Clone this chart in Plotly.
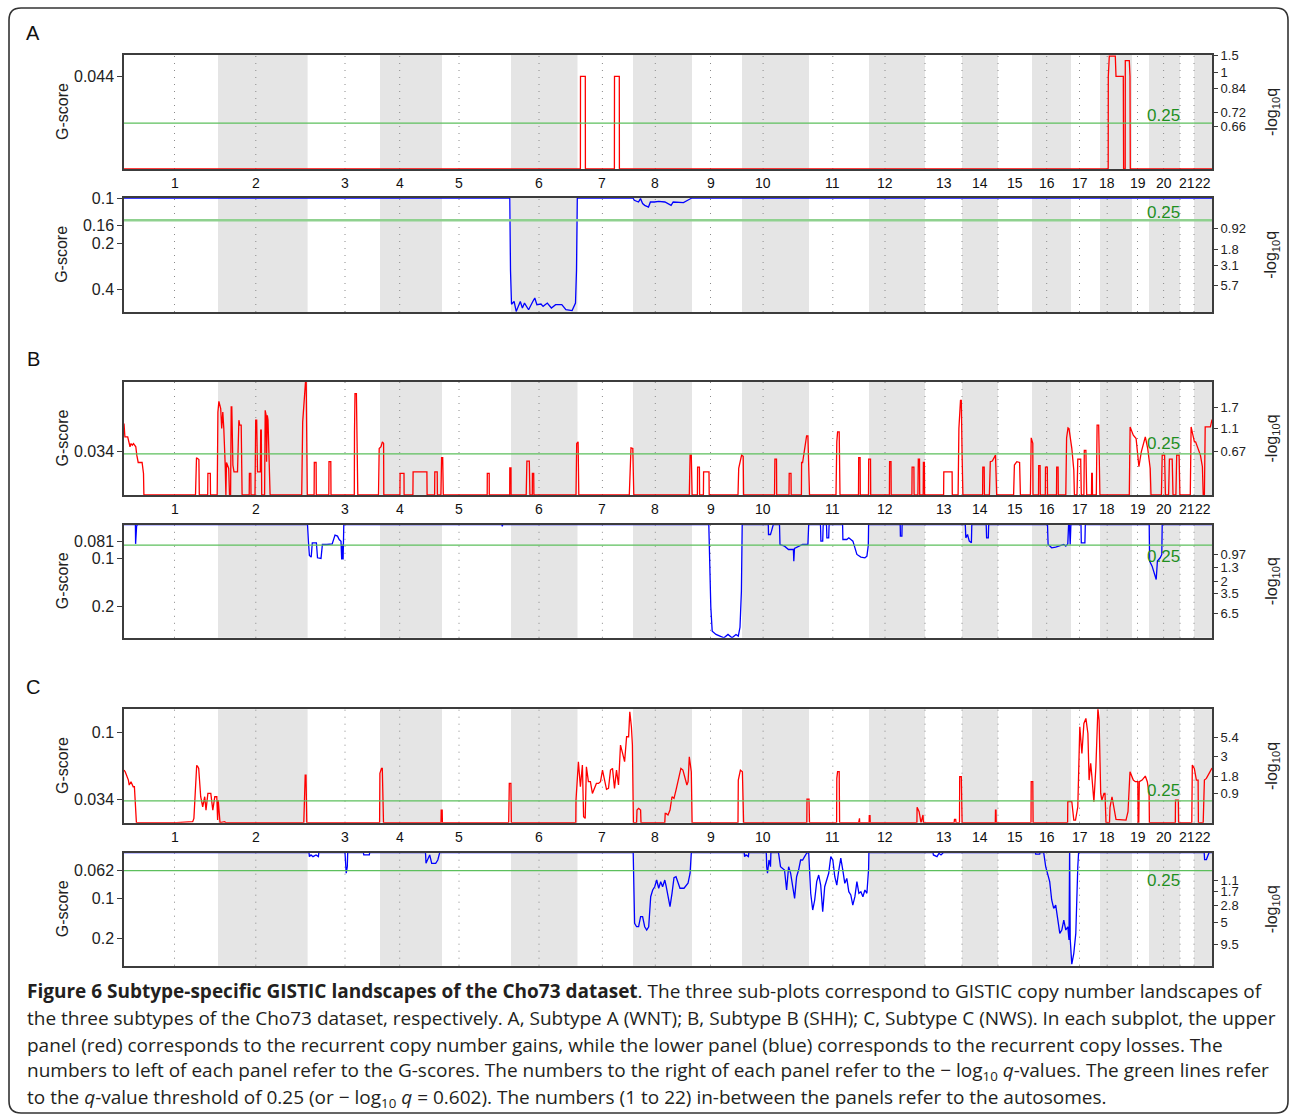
import math
import plotly.graph_objects as go

# ------------------------------------------------------------------ data
chrom_names = [str(i) for i in range(1, 23)]
# chromosome spans (genome units, as drawn)
chrom_len = [94, 89.6, 72.4, 62, 69, 66.5, 55.5, 59, 50, 67, 60, 56,
             37, 36, 34, 39, 29, 32, 17, 31, 14, 18]
# centromere offset inside each chromosome (0 = acrocentric, at start)
centro_off = [50.5, 37.8, 37.4, 19.7, 17, 28, 24.9, 22.3, 18.5, 21.1, 23.8, 16,
              0, 0, 0, 14.7, 8.5, 7.2, 5.5, 14.6, 0, 0]

# ---- Subtype A
gain_A = [
    [0, 0], [456.4, 0], [456.5, 0.044], [461.3, 0.044], [461.4, 0],
    [490.4, 0], [490.5, 0.044], [495.3, 0.044], [495.4, 0],
    [984.2, 0], [984.3, 0.044], [985.3, 0.0536], [991.3, 0.0536], [992, 0.044], [999.3, 0.044], [999.6, 0],
    [1001.2, 0], [1001.3, 0.0514], [1005.3, 0.0514], [1005.5, 0.044], [1006, 0.044], [1006.3, 0], [1088, 0]]
loss_A = [
    [0, 0.1], [385.8, 0.1], [386.5, 0.3], [387.5, 0.5], [390.1, 0.479], [392.2, 0.557], [396.3, 0.479],
    [398.4, 0.529], [400.5, 0.491], [404.6, 0.543], [408.8, 0.479], [410.8, 0.455], [412.9, 0.503],
    [417, 0.498], [419.1, 0.516], [423.3, 0.491], [427.4, 0.529], [431.6, 0.503], [437.8, 0.503],
    [441.9, 0.543], [448.1, 0.55], [451.5, 0.491], [452.5, 0.3], [453.3, 0.1],
    [509, 0.1], [510.3, 0.1035], [514.5, 0.1062], [516.5, 0.1009], [518.6, 0.1088], [520.7, 0.1117],
    [524.5, 0.1146], [526.4, 0.1062], [530.5, 0.1062], [534.7, 0.1051], [540.9, 0.1062], [547.1, 0.1117],
    [549.2, 0.1062], [555.4, 0.1062], [559.5, 0.1072], [563.7, 0.1035], [566.6, 0.1009], [567.8, 0.1],
    [1088, 0.1]]

# ---- Subtype B
gain_B = [
    [0, 0.0554], [0.9, 0.0451], [3.7, 0.0451], [4.8, 0.0399], [6, 0.0374], [7, 0.0399], [8.3, 0.0386],
    [9.5, 0.0399], [11.8, 0.0374], [12.8, 0.0309], [14.2, 0.0252], [18.1, 0.0252], [18.8, 0.0206],
    [19.5, 0.0167], [19.9, 0],
    [71.5, 0], [72.5, 0.0289], [74.9, 0.0275], [75.3, 0],
    [83.7, 0], [83.9, 0.0167], [86.3, 0.0167], [86.5, 0],
    [93.2, 0], [93.9, 0.0644], [94.9, 0.0726], [96.7, 0.067], [97.7, 0.0515], [98.8, 0.0644],
    [99.8, 0.0515], [101.2, 0.0232], [101.9, 0], [102.5, 0.0252], [104.7, 0.0206], [105.5, 0],
    [106.6, 0], [107.2, 0.0683], [107.8, 0.0683], [108.9, 0.0232], [110, 0.018], [113.5, 0.018],
    [114.9, 0.058], [115.7, 0.0541], [117.2, 0.0541], [118.1, 0],
    [125.2, 0], [125.4, 0.0167], [126.8, 0.0167], [127, 0],
    [131, 0], [131.7, 0.058], [132.7, 0.058], [133.5, 0.018], [136.3, 0.018], [136.7, 0.0502],
    [137.3, 0.0502], [137.7, 0],
    [140.6, 0], [141.2, 0.0657], [142.1, 0.0618], [142.6, 0.0258], [143.3, 0.0618], [144, 0.058],
    [145, 0.0193], [146.1, 0],
    [177.7, 0], [178.7, 0.0567], [181.5, 0.0876], [182.2, 0.0876], [183.3, 0],
    [190.1, 0], [190.3, 0.0252], [192.1, 0.0252], [192.3, 0],
    [204.8, 0], [205, 0.0258], [206.8, 0.0258], [207, 0],
    [230.3, 0], [230.5, 0.0489], [231, 0.0786], [232.4, 0.0786], [233.3, 0.018], [233.8, 0],
    [254.5, 0], [255.2, 0.0361], [257, 0.0374], [258.4, 0.0412], [259.6, 0.04], [259.8, 0],
    [275.9, 0], [276.1, 0.0167], [280, 0.0167], [280.1, 0],
    [288.9, 0], [289.1, 0.018], [302.9, 0.018], [303.1, 0],
    [310.6, 0], [310.8, 0.018], [313.2, 0.018], [313.4, 0],
    [316.9, 0], [317.6, 0.0289], [318.7, 0.0289], [319.3, 0],
    [363.2, 0], [363.3, 0.0167], [365.2, 0.0167], [365.3, 0],
    [385.7, 0], [385.8, 0.0211], [387, 0.0211], [387.1, 0],
    [402.2, 0], [402.9, 0.0263], [405.3, 0.0263], [405.9, 0], [408.3, 0], [408.4, 0.0167],
    [409.7, 0.0167], [409.9, 0],
    [452, 0], [452.7, 0.0399], [454.1, 0.0412], [454.8, 0],
    [505.3, 0], [506.3, 0.0309], [507, 0.0366], [508.8, 0.0361], [509.8, 0],
    [565.3, 0], [566.1, 0.0309], [567.3, 0.0309], [568.1, 0],
    [573.4, 0], [573.6, 0.0216], [575.4, 0.0216], [575.6, 0],
    [579.4, 0], [579.6, 0.018], [585, 0.018], [585.2, 0],
    [614, 0], [614.7, 0.0206], [617.6, 0.0309], [619.2, 0.03], [619.6, 0],
    [650.5, 0], [650.9, 0.0278], [652.5, 0.0278], [652.7, 0],
    [665, 0], [665.2, 0.0167], [667, 0.0167], [667.2, 0],
    [677.4, 0], [677.6, 0.0252], [678.6, 0.0252], [682.6, 0.0459], [683.9, 0.0459], [685.5, 0],
    [712, 0], [712.8, 0.0412], [713.6, 0.0489], [715.2, 0.0489], [716, 0],
    [734.5, 0], [734.7, 0.0289], [736.1, 0.0289], [736.3, 0],
    [744.5, 0], [744.7, 0.0278], [746.5, 0.0278], [746.7, 0],
    [765.4, 0], [765.6, 0.0258], [767, 0.0258], [767.2, 0],
    [787.9, 0], [788.1, 0.0216], [789.9, 0.0216], [790.1, 0],
    [793.9, 0], [794.3, 0.0278], [795.5, 0.0278], [795.7, 0], [799.2, 0], [799.4, 0.0252],
    [800.4, 0.0252], [800.6, 0],
    [819.6, 0], [819.8, 0.018], [828.1, 0.018], [828.3, 0],
    [834.1, 0], [834.9, 0.0515], [836.5, 0.0734], [837.3, 0.0734], [838.1, 0.0309], [838.9, 0],
    [858.6, 0], [858.8, 0.0216], [860.2, 0.0216], [860.4, 0],
    [865.4, 0], [866.3, 0.0258], [868.3, 0.0263], [871.5, 0.0309], [872.7, 0],
    [889.6, 0], [890.4, 0.0232], [892.8, 0.0258], [895.6, 0.0252], [896.4, 0],
    [906.4, 0], [907.2, 0.0443], [908.8, 0.04], [909, 0],
    [914.5, 0], [914.7, 0.0227], [916.1, 0.0227], [916.3, 0],
    [921.3, 0], [921.5, 0.0216], [923.3, 0.0216], [923.5, 0],
    [932.5, 0], [932.7, 0.0216], [934.1, 0.0216], [934.3, 0],
    [941.8, 0], [942.6, 0.0443], [944, 0.052], [945, 0.0515], [947.8, 0.0361], [949.8, 0.0193], [950.4, 0],
    [953, 0], [953.8, 0.0278], [956.7, 0.0278], [957.3, 0],
    [959.9, 0], [960.3, 0.0345], [961.9, 0.0345], [962.7, 0],
    [967.5, 0], [967.7, 0.0167], [968.3, 0.0167], [968.5, 0],
    [972.3, 0], [973.1, 0.0541], [974.7, 0.0541], [975.9, 0],
    [1005.3, 0], [1006.1, 0.0528], [1009.3, 0.0463], [1012.1, 0.0438], [1014.1, 0.0309],
    [1014.9, 0.0219], [1017.3, 0.0335], [1021.3, 0.0451], [1023.7, 0.0361], [1026.2, 0.0206], [1027, 0],
    [1037.4, 0], [1038.2, 0.0309], [1040.6, 0.0309], [1041.4, 0],
    [1044.6, 0], [1045.4, 0.0278], [1048.2, 0.0278], [1049, 0],
    [1051.9, 0], [1052.7, 0.0309], [1055.1, 0.0309], [1055.9, 0],
    [1066.3, 0], [1067.1, 0.0528], [1070.4, 0.0412], [1071.6, 0.0412], [1076.4, 0.0309],
    [1078.4, 0.0219], [1079.2, 0], [1080.4, 0], [1081.2, 0.0528], [1086.4, 0.0528], [1088, 0.0585]]
loss_B = [
    [0, 0.0396], [11.4, 0.0396], [11.6, 0.0773], [12.6, 0.043], [13.5, 0.0396],
    [183.5, 0.0396], [184.5, 0.075], [185.4, 0.1], [187.2, 0.1032], [188.3, 0.0753], [192.4, 0.0753],
    [193.5, 0.1045], [197, 0.1058], [198.4, 0.0786], [202.9, 0.0786], [208.2, 0.0773], [211, 0.0604],
    [213.5, 0.0623], [215.2, 0.0688], [217, 0.0721], [217.7, 0.1078], [218.3, 0.0786], [219.1, 0.1078],
    [219.8, 0.0396],
    [377.8, 0.0396], [378.3, 0.043], [378.8, 0.0396],
    [584.8, 0.0396], [585.8, 0.12], [586.8, 0.2], [588.2, 0.2475], [592, 0.254], [596, 0.2572],
    [600, 0.2605], [604, 0.254], [608, 0.2605], [612, 0.254], [614.3, 0.2572], [616, 0.24],
    [617.4, 0.17], [618.2, 0.0396],
    [644.3, 0.0396], [644.5, 0.0591], [646.5, 0.0591], [647.5, 0.0526], [649.3, 0.0396],
    [655.5, 0.0396], [656, 0.0786], [660.5, 0.0818], [664.5, 0.0883], [669.4, 0.0883], [669.8, 0.111],
    [670.5, 0.086], [674.6, 0.0818], [678.6, 0.0786], [683.9, 0.0786], [684.7, 0.0396],
    [696.5, 0.0396], [696.9, 0.0721], [698.7, 0.0721], [699.2, 0.0396], [702.5, 0.0396],
    [702.9, 0.0656], [704.7, 0.0656], [705.1, 0.0396],
    [718.6, 0.0396], [718.9, 0.0688], [722.8, 0.0688], [724.8, 0.0656], [728.9, 0.0721],
    [730.9, 0.0851], [732.9, 0.098], [736.9, 0.1032], [740.9, 0.1045], [742.9, 0.1013],
    [744.3, 0.08], [744.6, 0.0396],
    [776.2, 0.0396], [776.4, 0.0623], [777.9, 0.0623], [778.1, 0.0396],
    [841.3, 0.0396], [841.8, 0.0656], [843.5, 0.0591], [845.3, 0.072], [847.4, 0.0753], [847.8, 0.0396],
    [862.2, 0.0396], [862.6, 0.0656], [864.3, 0.0656], [864.7, 0.0396],
    [923.5, 0.0396], [924.1, 0.0786], [927.7, 0.0851], [931.7, 0.0838], [935.8, 0.0818],
    [939.8, 0.0786], [941.8, 0.0818], [943.8, 0.0773], [944.6, 0.0396], [945.4, 0.0396],
    [946.2, 0.0786], [946.9, 0.0396],
    [957, 0.0396], [957.3, 0.0753], [960.9, 0.0753], [961.3, 0.0396],
    [1025.2, 0.0396], [1025.6, 0.111], [1028.1, 0.1208], [1030.2, 0.137], [1032.2, 0.1468],
    [1033.4, 0.111], [1036.2, 0.1045], [1037.8, 0.098], [1038.2, 0.0396],
    [1088, 0.0396]]

# ---- Subtype C
gain_C = [
    [0, 0.063], [1.2, 0.0614], [4.4, 0.0531], [5.2, 0.0482], [7, 0.0515], [9.2, 0.0465], [10.4, 0.0465],
    [12.4, 0.011],
    [52.6, 0.011], [68.7, 0.0119], [69.9, 0.0152], [72.7, 0.0677], [73.9, 0.0663], [74.7, 0.0647],
    [76.7, 0.0366], [78.7, 0.0267], [80.7, 0.0366], [82, 0.0234], [83.9, 0.0399], [86.8, 0.0399],
    [88.8, 0.0234], [90.8, 0.0366], [92.8, 0.0366], [93.6, 0.0135], [94.2, 0.0333], [94.8, 0.0234],
    [96, 0.011], [100.8, 0.0119], [101.5, 0.011],
    [179.8, 0.011], [180, 0.0234], [181.2, 0.0581], [182, 0.0581], [182.8, 0.011],
    [255.6, 0.011], [255.9, 0.0597], [257.5, 0.0647], [258.3, 0.0647], [259.5, 0.011],
    [317, 0.011], [317.2, 0.0234], [318.2, 0.0234], [318.4, 0.011],
    [384.7, 0.011], [385.3, 0.0498], [386.9, 0.0498], [387.3, 0.011],
    [451.8, 0.011], [452, 0.0333], [454.4, 0.0713], [456.4, 0.0465], [458.4, 0.068], [459.6, 0.0168],
    [461.2, 0.0152], [462.4, 0.0663], [464.4, 0.0515], [466.4, 0.0515], [468.4, 0.0399], [472.4, 0.0498],
    [474.5, 0.0498], [476.5, 0.0515], [478.5, 0.063], [482.5, 0.0439], [484.5, 0.0449], [486.5, 0.063],
    [488.5, 0.0647], [490.5, 0.0449], [492.5, 0.063], [494.5, 0.0482], [496.5, 0.0878], [498.6, 0.0795],
    [500.6, 0.0713], [502.6, 0.096], [504.6, 0.096], [505.8, 0.1208], [507.4, 0.1059], [508.4, 0.0878],
    [509.4, 0.011],
    [512.6, 0.011], [513, 0.0234], [514.6, 0.0251], [516.6, 0.0234], [517, 0.011],
    [540.8, 0.011], [541.2, 0.0201], [542, 0.0201], [544, 0.0185], [546, 0.0234], [548, 0.0366],
    [550, 0.035], [552, 0.0432], [554, 0.0531], [556.9, 0.0647], [558.9, 0.063], [560.9, 0.0548],
    [562.9, 0.0482], [564.1, 0.0515], [565.3, 0.0762], [567.3, 0.0614], [568.1, 0.011],
    [614, 0.011], [614.3, 0.0531], [616.4, 0.063], [618.4, 0.0614], [619.6, 0.011],
    [682.8, 0.011], [683, 0.0343], [685, 0.0343], [685.5, 0.011],
    [712.6, 0.011], [712.8, 0.0548], [713.6, 0.0614], [715.2, 0.0614], [715.6, 0.011],
    [734.7, 0.011], [734.9, 0.0152], [735.5, 0.0152], [735.7, 0.011],
    [745.1, 0.011], [745.3, 0.0178], [746, 0.0178], [746.2, 0.011],
    [792.9, 0.011], [793.1, 0.0261], [795.1, 0.0218], [797, 0.011], [799, 0.0185], [799.4, 0.011],
    [830.1, 0.011], [830.5, 0.0142], [831.7, 0.0142], [832, 0.011],
    [835.5, 0.011], [835.7, 0.0564], [837.3, 0.0564], [838.1, 0.011],
    [871.3, 0.011], [871.5, 0.0234], [872, 0.0234], [872.2, 0.011],
    [907, 0.011], [907.2, 0.0515], [908.8, 0.0515], [909.1, 0.011],
    [943.6, 0.011], [943.8, 0.0317], [947.8, 0.0317], [949.8, 0.0135], [951.5, 0.0135], [953.8, 0.0267],
    [955.8, 0.1059], [957.9, 0.0795], [959.9, 0.1092], [961.9, 0.1142], [963.9, 0.0993], [965.1, 0.0531],
    [966.7, 0.0696], [967.9, 0.0564], [969.9, 0.0317], [971.9, 0.0663], [973.9, 0.124], [975.1, 0.1125],
    [976.7, 0.0399], [977.9, 0.0333], [980, 0.0399], [981, 0.0399], [982, 0.011],
    [985.5, 0.011], [986, 0.0261], [988, 0.0366], [990, 0.0251], [992, 0.0142], [1002, 0.0135],
    [1004, 0.0218], [1006, 0.0614], [1009.3, 0.0531], [1011.3, 0.0515], [1013.8, 0.0515], [1014.1, 0.011],
    [1014.8, 0.011], [1015.3, 0.0515], [1018.1, 0.0531], [1021.3, 0.0571], [1023.3, 0.0515],
    [1025.1, 0.0399], [1025.4, 0.011],
    [1051.3, 0.011], [1051.5, 0.0333], [1054.3, 0.0333], [1054.6, 0.011],
    [1067.8, 0.011], [1068.3, 0.068], [1070.3, 0.0647], [1072.4, 0.0531], [1074.1, 0.0531], [1074.4, 0.011],
    [1079.2, 0.011], [1080.4, 0.0531], [1082.4, 0.0548], [1086.4, 0.063], [1088, 0.065]]
loss_C = [
    [0, 0.0455], [185, 0.0455], [185.4, 0.0487], [187, 0.0473], [189, 0.0487], [192, 0.0473],
    [194.4, 0.0487], [194.8, 0.0455],
    [221, 0.0455], [221.4, 0.0579], [222.2, 0.0648], [223.3, 0.0579], [223.7, 0.0455],
    [239.4, 0.0455], [239.8, 0.0473], [245.3, 0.0473], [245.7, 0.0455],
    [301.5, 0.0455], [302, 0.0546], [305.7, 0.0473], [307.7, 0.0546], [311.7, 0.0546], [313.8, 0.0516],
    [315.7, 0.0455],
    [509.2, 0.0455], [510.6, 0.1534], [512.6, 0.1626], [514.6, 0.1626], [516.6, 0.1369], [518.6, 0.1369],
    [520.7, 0.1626], [522.7, 0.1721], [524.7, 0.1626], [526.7, 0.097], [528.7, 0.0864], [530.7, 0.0817],
    [532.7, 0.0728], [534.7, 0.0839], [536.7, 0.075], [538.6, 0.0817], [540.8, 0.0728], [542, 0.08],
    [544, 0.097], [546, 0.1152], [548, 0.0915], [550, 0.07], [552, 0.0688], [554, 0.075], [556, 0.0839],
    [560, 0.0839], [564, 0.077], [566.1, 0.0648], [567.3, 0.0455],
    [620.2, 0.0455], [620.6, 0.0487], [622, 0.0473], [624.4, 0.0487], [624.8, 0.0455],
    [642.3, 0.0455], [642.7, 0.0579], [643.5, 0.0648], [645, 0.0516], [646.5, 0.0579], [646.9, 0.0455],
    [654.5, 0.0455], [656.5, 0.0579], [660.5, 0.0613], [662.6, 0.0864], [664.6, 0.0579], [666.6, 0.0648],
    [668.6, 0.0817], [670.6, 0.0998], [672.6, 0.0688], [674.6, 0.0613], [676.6, 0.0516], [678.6, 0.0516],
    [680.6, 0.0487], [682.6, 0.0459], [684.7, 0.0455],
    [686.7, 0.0915], [688.7, 0.122], [690.7, 0.1027], [692.7, 0.0749], [694.7, 0.0668], [696.7, 0.0794],
    [698.7, 0.1256], [700.7, 0.0817], [702.7, 0.0728], [704.7, 0.0648], [706.8, 0.0487], [708.8, 0.0516],
    [710.8, 0.0688], [712.8, 0.0794], [714.8, 0.0613], [716.8, 0.05], [718.8, 0.0613], [720.8, 0.077],
    [722.8, 0.0708], [724.8, 0.089], [726.8, 0.0942], [728.8, 0.112], [730.9, 0.097], [732.9, 0.0749],
    [734.9, 0.0915], [736.9, 0.089], [738.9, 0.097], [740.9, 0.0864], [742.9, 0.0915], [744.6, 0.06],
    [744.9, 0.0455],
    [809, 0.0455], [809.4, 0.0473], [813, 0.0487], [815, 0.0459], [817, 0.0473], [819.2, 0.0455],
    [911.5, 0.0455], [911.7, 0.0466], [915.7, 0.0466], [916, 0.0455], [919.7, 0.0455], [921.7, 0.0579],
    [923.7, 0.0668], [925.7, 0.0749], [927.7, 0.1027], [929.7, 0.1185], [931.7, 0.112], [933.8, 0.1449],
    [935.8, 0.1823], [937.8, 0.1721], [939.8, 0.1449], [941.8, 0.1721], [943.8, 0.1626], [945, 0.2045],
    [945.6, 0.0455], [946.2, 0.2], [947.8, 0.31], [949.8, 0.2572], [951.8, 0.1823], [953.8, 0.0579],
    [954.6, 0.0455],
    [1080.2, 0.0455], [1080.6, 0.0512], [1082.4, 0.0512], [1084, 0.047], [1085, 0.0455], [1088, 0.0455]]

# axis ranges (G-score, bottom -> top)
range_A_gain = [0, 0.0541]
range_A_loss = [0.562, 0.0995]
range_B_gain = [0, 0.0876]
range_B_loss = [0.2605, 0.0396]
range_C_gain = [0.0109, 0.1232]
range_C_loss = [0.318, 0.0455]

# left G-score tick labels and the G-score where each label sits
glab_A_gain, gpos_A_gain = ["0.044"], [0.044]
glab_A_loss, gpos_A_loss = ["0.1", "0.16", "0.2", "0.4"], [0.1, 0.151, 0.2, 0.4]
glab_B_gain, gpos_B_gain = ["0.034"], [0.034]
glab_B_loss, gpos_B_loss = ["0.081", "0.1", "0.2"], [0.0733, 0.1064, 0.2]
glab_C_gain, gpos_C_gain = ["0.1", "0.034"], [0.1, 0.034]
glab_C_loss, gpos_C_loss = ["0.062", "0.1", "0.2"], [0.062, 0.1, 0.2]

# right -log10 q tick labels and the G-score where each label sits
qlab_A_gain = ["1.5", "1", "0.84", "0.72", "0.66"]
qpos_A_gain = [0.0539, 0.0460, 0.0384, 0.0268, 0.0204]
qlab_A_loss = ["0.92", "1.8", "3.1", "5.7"]
qpos_A_loss = [0.1595, 0.2167, 0.2786, 0.378]
qlab_B_gain = ["1.7", "1.1", "0.67"]
qpos_B_gain = [0.0678, 0.0516, 0.034]
qlab_B_loss = ["0.97", "1.3", "2", "3.5", "6.5"]
qpos_B_loss = [0.098, 0.124, 0.150, 0.1747, 0.2125]
qlab_C_gain = ["5.4", "3", "1.8", "0.9"]
qpos_C_gain = [0.0957, 0.0769, 0.0571, 0.0399]
qlab_C_loss = ["1.1", "1.7", "2.8", "5", "9.5"]
qpos_C_loss = [0.0728, 0.0890, 0.112, 0.1518, 0.2203]

# q = 0.25 threshold, in G-score
thr_A_gain, thr_A_loss = 0.0218, 0.140
thr_B_gain, thr_B_loss = 0.0319, 0.080
thr_C_gain, thr_C_loss = 0.0326, 0.062
q_threshold_label = "0.25"

caption_lines = [
    "<b>Figure 6 Subtype-specific GISTIC landscapes of the Cho73 dataset</b>. The three sub-plots correspond to GISTIC copy number landscapes of",
    "the three subtypes of the Cho73 dataset, respectively. A, Subtype A (WNT); B, Subtype B (SHH); C, Subtype C (NWS). In each subplot, the upper",
    "panel (red) corresponds to the recurrent copy number gains, while the lower panel (blue) corresponds to the recurrent copy losses. The",
    "numbers to left of each panel refer to the G-scores. The numbers to the right of each panel refer to the \u2212 log<sub>10</sub> <i>q</i>-values. The green lines refer",
    "to the <i>q</i>-value threshold of 0.25 (or \u2212 log<sub>10</sub> <i>q</i> = 0.602). The numbers (1 to 22) in-between the panels refer to the autosomes.",
]

# ------------------------------------------------------------------ layout helpers
W, H = 1290, 1116
X0, X1 = 124, 1212


def fx(p):
    return p / W


def fy(p):
    return 1 - p / H


starts = []
acc = 0.0
for L in chrom_len:
    starts.append(acc)
    acc += L
GENOME = acc
centro_abs = [s + c for s, c in zip(starts, centro_off)]
label_x = [s + c if c > 0 else s + L / 2 for s, c, L in zip(starts, centro_off, chrom_len)]

NUM_FONT = "Liberation Sans, Arial, sans-serif"
TXT_FONT = "Liberation Sans, Arial, sans-serif"

panels = [
    ("A", "gain", gain_A, range_A_gain, "linear", glab_A_gain, gpos_A_gain, qlab_A_gain, qpos_A_gain, thr_A_gain, 8, 55, 169),
    ("A", "loss", loss_A, range_A_loss, "log", glab_A_loss, gpos_A_loss, qlab_A_loss, qpos_A_loss, thr_A_loss, 8, 197.7, 312),
    ("B", "gain", gain_B, range_B_gain, "linear", glab_B_gain, gpos_B_gain, qlab_B_gain, qpos_B_gain, thr_B_gain, 10, 382, 495),
    ("B", "loss", loss_B, range_B_loss, "linear", glab_B_loss, gpos_B_loss, qlab_B_loss, qpos_B_loss, thr_B_loss, -11, 524.5, 637.8),
    ("C", "gain", gain_C, range_C_gain, "linear", glab_C_gain, gpos_C_gain, qlab_C_gain, qpos_C_gain, thr_C_gain, 10, 709.3, 822.7),
    ("C", "loss", loss_C, range_C_loss, "log", glab_C_loss, gpos_C_loss, qlab_C_loss, qpos_C_loss, thr_C_loss, -10, 852.7, 965.7),
]

fig = go.Figure()
layout = dict(width=W, height=H,
              margin=dict(l=0, r=0, t=0, b=0, pad=0, autoexpand=False), autosize=False,
              paper_bgcolor="white", plot_bgcolor="rgba(0,0,0,0)", showlegend=False)
shapes = []
annotations = []

FRAME = "#3c3c3c"

for i, (letter, kind, data, yr, ytype, gl, gp, ql, qp, thr, shift, ptop, pbot) in enumerate(panels):
    n = i + 1
    xname = "x" if n == 1 else f"x{n}"
    yname = "y" if n == 1 else f"y{n}"
    rname = f"y{n + 6}"
    xkey = "xaxis" if n == 1 else f"xaxis{n}"
    ykey = "yaxis" if n == 1 else f"yaxis{n}"
    rkey = f"yaxis{n + 6}"

    rng = [math.log10(v) for v in yr] if ytype == "log" else list(yr)

    dom_y = [fy(pbot), fy(ptop)]
    layout[xkey] = dict(domain=[fx(X0), fx(X1)], range=[0, GENOME], anchor=yname, automargin=False,
                        showline=True, mirror=True, linecolor=FRAME, linewidth=1.5,
                        showgrid=False, zeroline=False, showticklabels=False, ticks="")
    layout[ykey] = dict(domain=dom_y, range=rng, type=ytype, anchor=xname, automargin=False,
                        showline=True, mirror=True, linecolor=FRAME, linewidth=1.5,
                        showgrid=False, zeroline=False, ticks="outside", ticklen=5,
                        tickcolor=FRAME, tickmode="array", tickvals=gp, ticktext=gl,
                        tickfont=dict(family=NUM_FONT, size=16, color="#222"))
    layout[rkey] = dict(domain=dom_y, range=rng, type=ytype, anchor=xname, overlaying=yname,
                        automargin=False,
                        side="right", showline=False, showgrid=False, zeroline=False,
                        ticks="outside", ticklen=5, tickcolor=FRAME, tickmode="array",
                        tickvals=qp, ticktext=ql,
                        tickfont=dict(family=NUM_FONT, size=13, color="#222"))

    # chromosome bands (even chromosomes shaded) and centromere dotted lines
    for k, (s, L) in enumerate(zip(starts, chrom_len)):
        if (k + 1) % 2 == 0:
            shapes.append(dict(type="rect", xref=xname, yref=f"{yname} domain",
                               x0=s, x1=s + L, y0=0, y1=1, fillcolor="#e5e5e5",
                               line=dict(width=0), layer="below"))
    for c in centro_abs:
        shapes.append(dict(type="line", xref=xname, yref=f"{yname} domain",
                           x0=c, x1=c, y0=0, y1=1,
                           line=dict(color="#8a8a8a", width=1, dash="1px,6px"), layer="below"))

    color = "#ff0000" if kind == "gain" else "#0000ff"
    fig.add_trace(go.Scatter(x=[p[0] for p in data], y=[p[1] for p in data],
                             xaxis=xname, yaxis=yname, mode="lines",
                             line=dict(color=color, width=1.3), hoverinfo="skip"))
    thick = (letter == "A" and kind == "loss")
    gcol = "#8fd18f" if thick else "#5cbf5c"
    gw = 2.4 if thick else 1.3
    fig.add_trace(go.Scatter(x=[0, GENOME], y=[thr, thr], xaxis=xname, yaxis=rname,
                             mode="lines", line=dict(color=gcol, width=gw), hoverinfo="skip"))

    ythr = math.log10(thr) if ytype == "log" else thr
    annotations.append(dict(xref=xname, yref=yname, x=1039, y=ythr, yshift=shift,
                            xanchor="center", yanchor="middle",
                            text=q_threshold_label, showarrow=False,
                            font=dict(family=NUM_FONT, size=17, color="#1f8f1f")))

    # axis titles
    annotations.append(dict(xref="paper", yref="paper", x=fx(62), y=fy((ptop + pbot) / 2),
                            xanchor="center", yanchor="middle",
                            text="G-score", textangle=-90, showarrow=False,
                            font=dict(family=TXT_FONT, size=16, color="#222")))
    annotations.append(dict(xref="paper", yref="paper", x=fx(1272), y=fy((ptop + pbot) / 2),
                            xanchor="center", yanchor="middle",
                            text="-log<sub>10</sub>q", textangle=-90, showarrow=False,
                            font=dict(family=TXT_FONT, size=16, color="#222")))

    if kind == "gain":
        # chromosome numbers between the two panels
        ylab = fy(pbot + 14)
        for name, lx in zip(chrom_names, label_x):
            annotations.append(dict(xref=xname, yref="paper", x=lx, y=ylab, text=name,
                                    xanchor="center", yanchor="middle", showarrow=False,
                                    font=dict(family=NUM_FONT, size=14, color="#111")))
        annotations.append(dict(xref="paper", yref="paper", x=fx(33), y=fy(ptop - 22.5),
                                xanchor="center", yanchor="middle",
                                text=letter, showarrow=False,
                                font=dict(family=TXT_FONT, size=20, color="#111")))

# caption
for j, line in enumerate(caption_lines):
    annotations.append(dict(xref="paper", yref="paper", x=fx(25), y=fy(991 + j * 26.75),
                            xanchor="left", yanchor="middle", text=line, showarrow=False,
                            align="left",
                            font=dict(family="Open Sans, Noto Sans, sans-serif", size=19,
                                      color="#231f20")))

# rounded outer frame
bx0, by0, bx1, by1, r = 9, 8, 1288, 1113, 12
path = (f"M {fx(bx0 + r)},{fy(by0)} L {fx(bx1 - r)},{fy(by0)} "
        f"Q {fx(bx1)},{fy(by0)} {fx(bx1)},{fy(by0 + r)} L {fx(bx1)},{fy(by1 - r)} "
        f"Q {fx(bx1)},{fy(by1)} {fx(bx1 - r)},{fy(by1)} L {fx(bx0 + r)},{fy(by1)} "
        f"Q {fx(bx0)},{fy(by1)} {fx(bx0)},{fy(by1 - r)} L {fx(bx0)},{fy(by0 + r)} "
        f"Q {fx(bx0)},{fy(by0)} {fx(bx0 + r)},{fy(by0)} Z")
shapes.append(dict(type="path", xref="paper", yref="paper", path=path,
                   line=dict(color="#333", width=1.6), layer="above"))

layout["shapes"] = shapes
layout["annotations"] = annotations
fig.update_layout(**layout)

post = ("document.documentElement.style.margin='0';document.body.style.margin='0';"
        "document.body.style.padding='0';"
        "var gd=document.getElementById('{plot_id}');"
        "gd.style.position='absolute';gd.style.top='0px';gd.style.left='0px';")
fig.write_html("out.html", config={"displayModeBar": False}, post_script=post)
